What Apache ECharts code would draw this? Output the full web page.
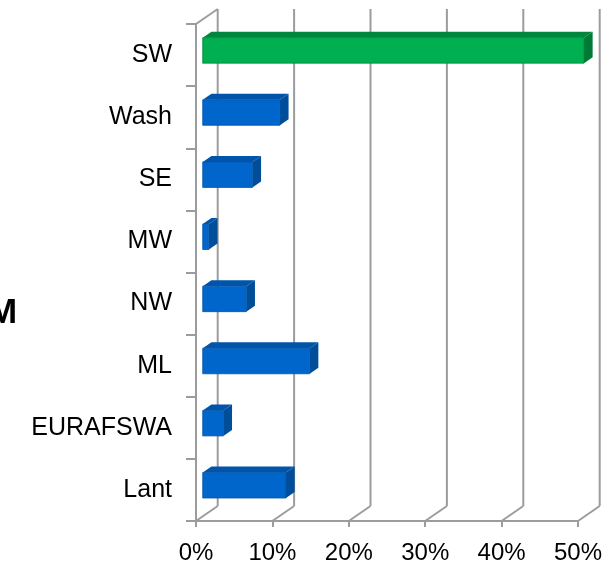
<!DOCTYPE html>
<html>
<head>
<meta charset="utf-8">
<script src="https://cdn.jsdelivr.net/npm/echarts@6/dist/echarts.min.js"></script>
<style>html,body{margin:0;padding:0;background:#fff}#c{width:616px;height:569px}</style>
</head>
<body>
<div id="c"></div>
<script>
var categories = ['SW', 'Wash', 'SE', 'MW', 'NW', 'ML', 'EURAFSWA', 'Lant'];
var shares = [49.9, 10.1, 6.5, 0.8, 5.7, 14.0, 2.7, 10.9];
var highlighted = ['SW'];
var xTicks = [0, 10, 20, 30, 40, 50];
var sideTitle = 'M';

var DX = 21.7, DY = -15;          // depth projection of the 3D box
var D1 = 0.31, D2 = 0.71;          // bar depth position (fraction)
var GRID = '#9C9C9C';
var PAL = {
  green: {face: '#00B050', top: '#00873D', side: '#007A36'},
  blue:  {face: '#0066CC', top: '#0055AA', side: '#004D99'}
};

var chart = echarts.init(document.getElementById('c'));

function gridItem(params, api) {
  var cs = params.coordSys;
  var v = api.value(0);
  var x = api.coord([v, 0])[0];
  var top = cs.y, bottom = cs.y + cs.height;
  var style = {stroke: GRID, lineWidth: 2};
  var children = [
    {type: 'line', shape: {x1: x + DX, y1: top + DY, x2: x + DX, y2: bottom + DY}, style: style},
    {type: 'line', shape: {x1: x, y1: bottom, x2: x + DX, y2: bottom + DY}, style: style}
  ];
  if (v === 0) {
    children.push({type: 'line', shape: {x1: x, y1: top, x2: x + DX, y2: top + DY}, style: style});
  }
  return {type: 'group', children: children};
}

function barItem(params, api) {
  var cat = api.value(0), val = api.value(1);
  var p0 = api.coord([0, cat]);
  var p1 = api.coord([val, cat]);
  var band = api.size([0, 1])[1];
  var h = band * 0.41;
  var x0 = p0[0] + DX * D1, x1 = p1[0] + DX * D1;
  var yc = p0[1] + DY * D1;
  var y0 = yc - h / 2, y1 = yc + h / 2;
  var ddx = DX * (D2 - D1), ddy = DY * (D2 - D1);
  var c = highlighted.indexOf(categories[cat]) >= 0 ? PAL.green : PAL.blue;
  return {type: 'group', children: [
    {type: 'polygon', shape: {points: [[x0, y0], [x1, y0], [x1 + ddx, y0 + ddy], [x0 + ddx, y0 + ddy]]}, style: {fill: c.top}},
    {type: 'polygon', shape: {points: [[x1, y0], [x1 + ddx, y0 + ddy], [x1 + ddx, y1 + ddy], [x1, y1]]}, style: {fill: c.side}},
    {type: 'rect', shape: {x: x0, y: y0, width: x1 - x0, height: h}, style: {fill: c.face, stroke: c.top, lineWidth: 0.8}}
  ]};
}

chart.setOption({
  animation: false,
  backgroundColor: '#fff',
  textStyle: {fontFamily: 'Liberation Sans, Arial, sans-serif'},
  grid: {left: 196, right: 38, top: 24, bottom: 48, containLabel: false},
  xAxis: {
    type: 'value', min: 0, max: 50, interval: 10,
    axisLine: {show: true, lineStyle: {color: GRID, width: 2}},
    axisTick: {show: true, length: 6, lineStyle: {color: GRID, width: 2}},
    splitLine: {show: false},
    axisLabel: {color: '#000', fontSize: 24, margin: 20, formatter: function (v) { return v + '%'; }}
  },
  yAxis: {
    type: 'category', data: categories, inverse: true,
    axisLine: {show: true, lineStyle: {color: GRID, width: 2}},
    axisTick: {show: true, length: 10, lineStyle: {color: GRID, width: 2}},
    axisLabel: {color: '#000', fontSize: 25, margin: 24},
    splitLine: {show: false}
  },
  graphic: [{
    type: 'text', left: -12, top: 296,
    style: {text: sideTitle, font: 'bold 35px "Liberation Sans", Arial, sans-serif', fill: '#000'}
  }],
  series: [
    {type: 'custom', renderItem: gridItem, data: xTicks.map(function (v) { return [v]; }), z: 1, silent: true},
    {type: 'custom', renderItem: barItem, encode: {x: 1, y: 0},
     data: shares.map(function (v, i) { return [i, v]; }), z: 3}
  ]
});
</script>
</body>
</html>
